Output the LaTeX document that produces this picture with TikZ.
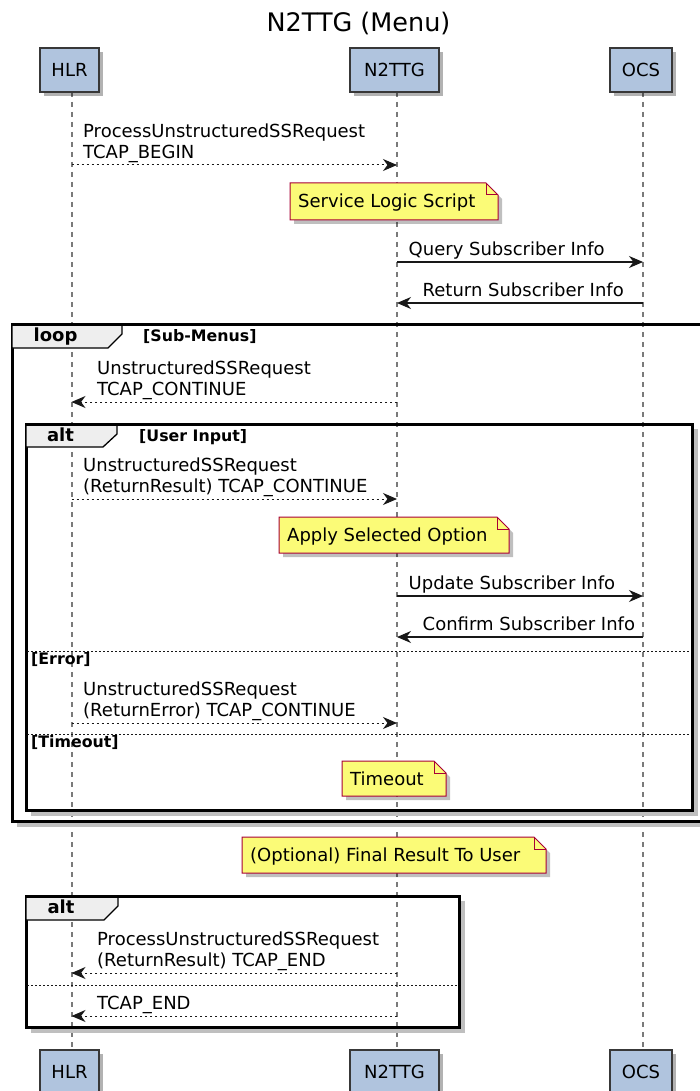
\documentclass[tikz,border=0pt]{standalone}
\usepackage{fontspec}
\setmainfont{DejaVu Sans}
\usetikzlibrary{arrows.meta,shadows}
\definecolor{partfill}{HTML}{B0C4DE}
\definecolor{partdraw}{HTML}{383838}
\definecolor{notefill}{HTML}{FBFB77}
\definecolor{notedraw}{HTML}{A80036}
\definecolor{tabfill}{HTML}{EEEEEE}
\definecolor{linecol}{HTML}{181818}
\definecolor{lifecol}{HTML}{7A7A7A}
\tikzset{
  part/.style={draw=partdraw, fill=partfill, line width=1.4pt, minimum height=44pt, inner sep=0pt,
    font=\fontsize{18}{21}\selectfont,
    drop shadow={shadow xshift=4pt, shadow yshift=-4pt, opacity=0.3, fill=black}},
  lifeline/.style={draw=lifecol, line width=2pt, dash pattern=on 5pt off 5pt},
  msg/.style={draw=linecol, line width=1.2pt, -{Stealth[length=14pt,width=12pt,inset=4.5pt]}},
  reply/.style={msg, line width=1pt, dash pattern=on 2.5pt off 2.5pt},
  msgtext/.style={font=\fontsize{18}{20.7}\selectfont, inner sep=0pt, anchor=base west},
  notetext/.style={font=\fontsize{18}{21}\selectfont, inner sep=0pt, anchor=base west},
  frameline/.style={draw=black, line width=3pt},
  frameshadow/.style={draw=black!25, line width=3.5pt},
  tabstyle/.style={fill=tabfill, draw=black, line width=1.3pt},
  tablabel/.style={font=\bfseries\fontsize{18}{21}\selectfont, inner sep=0pt, anchor=base},
  guardtext/.style={font=\bfseries\fontsize{15.8}{18}\selectfont, inner sep=0pt, anchor=base west},
  sepline/.style={draw=linecol, line width=1pt, dash pattern=on 2pt off 2pt}
}
\newcommand{\mynote}[6]{%
  \fill[black,opacity=0.25] ({#2+4},{#3+4}) -- ({#4-8},{#3+4}) -- ({#4+4},{#3+16}) -- ({#4+4},{#5+4}) -- ({#2+4},{#5+4}) -- cycle;
  \filldraw[fill=notefill,draw=notedraw,line width=1pt] (#2,#3) -- ({#4-12},#3) -- (#4,{#3+12}) -- (#4,#5) -- (#2,#5) -- cycle;
  \draw[draw=notedraw,line width=1pt] ({#4-12},#3) -- ({#4-12},{#3+12}) -- (#4,{#3+12});
  \node[notetext] (#1) at ({#2+8},{(#3+#5)/2+6.5}) {#6};
}
\newcommand{\twolines}[2]{\begin{tabular}[b]{@{}l@{}}#1\\#2\end{tabular}}
\begin{document}
\begin{tikzpicture}[x=1pt,y=-1pt]
\useasboundingbox (0,0) rectangle (699,1091);
\fill[white] (0,0) rectangle (699,1091);
% title
\node[font=\fontsize{25.5}{30}\selectfont, inner sep=0pt, anchor=base] (title) at (358.5,31.5) {N2TTG (Menu)};
% lifelines
\coordinate (hA) at (71.5,92);  \coordinate (hB) at (71.5,1050);
\coordinate (nA) at (397,92);   \coordinate (nB) at (397,1050);
\coordinate (oA) at (643,92);   \coordinate (oB) at (643,1050);
\draw[lifeline] (hA) -- (hB);
\draw[lifeline] (nA) -- (nB);
\draw[lifeline] (oA) -- (oB);
% loop frame
\draw[frameshadow] (17,825) -- (710,825);
\draw[frameline] (12,324) rectangle (706,821);
\filldraw[tabstyle] (12,324) -- (122,324) -- (122,334) -- (108,348) -- (12,348) -- cycle;
\draw[frameline] (12,324) -- (706,324);
\node[tablabel] (looplbl) at (55.5,341.5) {loop};
\node[guardtext] (g1) at (143,341.5) {[Sub-Menus]};
% alt frame
\draw[frameshadow] (31,814) -- (696,814) -- (696,429);
\draw[frameline] (26,424) rectangle (692,810);
\filldraw[tabstyle] (26,424) -- (117,424) -- (117,434) -- (103,447) -- (26,447) -- cycle;
\draw[frameline] (26,424) -- (692,424);
\node[tablabel] (altlbl) at (60.5,441.5) {alt};
\node[guardtext] (g2) at (139,441.5) {[User Input]};
\draw[sepline] (27,651) -- (691,651);
\node[guardtext] (g3) at (31,664) {[Error]};
\draw[sepline] (27,734) -- (691,734);
\node[guardtext] (g4) at (31,747.5) {[Timeout]};
% alt2 frame
\draw[frameshadow] (31,1031) -- (463,1031) -- (463,901);
\draw[frameline] (26,896) rectangle (459,1027);
\filldraw[tabstyle] (26,896) -- (118,896) -- (118,906) -- (104,920) -- (26,920) -- cycle;
\draw[frameline] (26,896) -- (459,896);
\node[tablabel] (alt2lbl) at (61,913.5) {alt};
\draw[sepline] (27,985) -- (458,985);
% messages
\coordinate (m1a) at (71.5,165); \coordinate (m1b) at (397,165);
\draw[reply] (m1a) -- (m1b);
\node[msgtext] (t1) at (83,158.5) {\twolines{ProcessUnstructuredSSRequest}{TCAP\_BEGIN}};
\mynote{n1}{290}{183}{498}{220}{Service Logic Script}
\coordinate (m2a) at (397,262); \coordinate (m2b) at (643,262);
\draw[msg] (m2a) -- (m2b);
\node[msgtext] (t2) at (408.5,255.5) {Query Subscriber Info};
\coordinate (m3a) at (643,303); \coordinate (m3b) at (397,303);
\draw[msg] (m3a) -- (m3b);
\node[msgtext] (t3) at (422.5,296.5) {Return Subscriber Info};
\coordinate (m4a) at (397,402); \coordinate (m4b) at (71.5,402);
\draw[reply] (m4a) -- (m4b);
\node[msgtext] (t4) at (97,395.5) {\twolines{UnstructuredSSRequest}{TCAP\_CONTINUE}};
\coordinate (m5a) at (71.5,499); \coordinate (m5b) at (397,499);
\draw[reply] (m5a) -- (m5b);
\node[msgtext] (t5) at (83,492.5) {\twolines{UnstructuredSSRequest}{(ReturnResult) TCAP\_CONTINUE}};
\mynote{n2}{279}{517}{509}{553}{Apply Selected Option}
\coordinate (m6a) at (397,596); \coordinate (m6b) at (643,596);
\draw[msg] (m6a) -- (m6b);
\node[msgtext] (t6) at (408.5,589.5) {Update Subscriber Info};
\coordinate (m7a) at (643,637); \coordinate (m7b) at (397,637);
\draw[msg] (m7a) -- (m7b);
\node[msgtext] (t7) at (422.5,630.5) {Confirm Subscriber Info};
\coordinate (m8a) at (71.5,723); \coordinate (m8b) at (397,723);
\draw[reply] (m8a) -- (m8b);
\node[msgtext] (t8) at (83,716.5) {\twolines{UnstructuredSSRequest}{(ReturnError) TCAP\_CONTINUE}};
\mynote{n3}{342}{761}{446}{796}{Timeout}
\mynote{n4}{242}{837}{546}{873}{(Optional) Final Result To User}
\coordinate (m9a) at (397,973); \coordinate (m9b) at (71.5,973);
\draw[reply] (m9a) -- (m9b);
\node[msgtext] (t9) at (97,966.5) {\twolines{ProcessUnstructuredSSRequest}{(ReturnResult) TCAP\_END}};
\coordinate (m10a) at (397,1016); \coordinate (m10b) at (71.5,1016);
\draw[reply] (m10a) -- (m10b);
\node[msgtext] (t10) at (97,1009.5) {TCAP\_END};
% participants
\node[part, minimum width=59pt] (hlrT) at (69.5,70) {HLR};
\node[part, minimum width=89pt] (n2T) at (394.5,70) {N2TTG};
\node[part, minimum width=62pt] (ocsT) at (641,70) {OCS};
\node[part, minimum width=59pt] (hlrB) at (69.5,1072) {HLR};
\node[part, minimum width=89pt] (n2B) at (394.5,1072) {N2TTG};
\node[part, minimum width=62pt] (ocsB) at (641,1072) {OCS};
\end{tikzpicture}
\end{document}
